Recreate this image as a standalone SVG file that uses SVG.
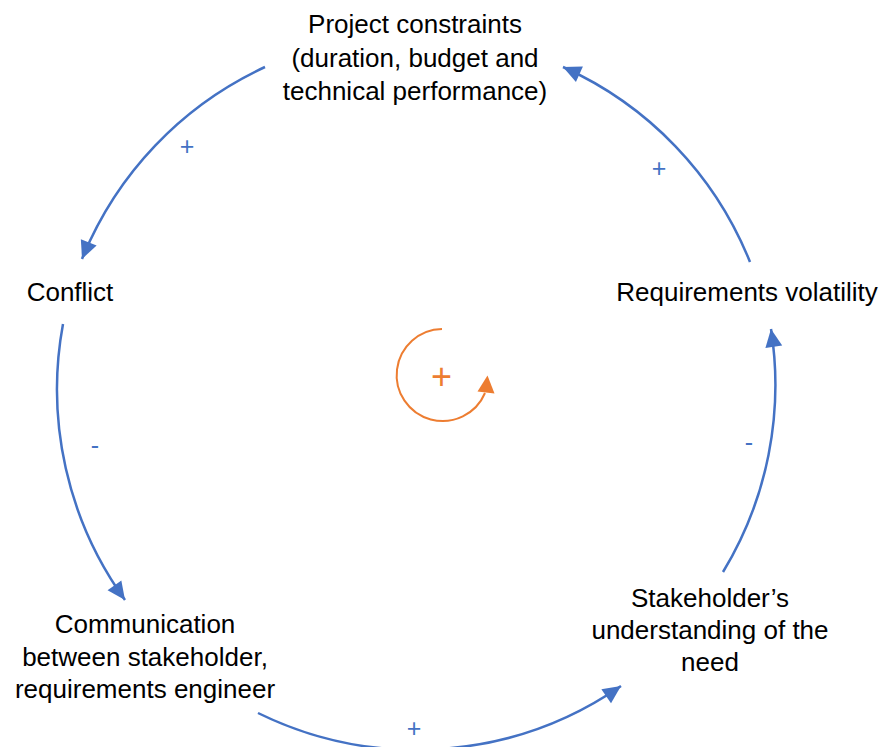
<svg xmlns="http://www.w3.org/2000/svg" width="885" height="747" viewBox="0 0 885 747">
<style>
.t{font-family:"Liberation Sans",Arial,sans-serif;font-size:26px;fill:#000;text-anchor:middle}
.s{font-family:"Liberation Sans",Arial,sans-serif;font-size:25px;fill:#4472C4;text-anchor:middle}
.c{fill:none;stroke:#4472C4;stroke-width:2.5}
.o{fill:none;stroke:#ED7D31;stroke-width:2}
</style>
<defs>
<marker id="ab" viewBox="-19 -10 20 20" markerWidth="20" markerHeight="20" refX="0" refY="0" orient="auto" markerUnits="userSpaceOnUse">
<path d="M0,0 L-18,-8.5 L-18,8.5 Z" fill="#4472C4"/>
</marker>
</defs>
<rect width="885" height="747" fill="#fff"/>
<g id="connectors">
<path class="c" d="M265,67 A360,360 0 0 0 82,259" marker-end="url(#ab)"/>
<path class="c" d="M63,324 A360,360 0 0 0 125,600" marker-end="url(#ab)"/>
<path class="c" d="M258,713 A360,360 0 0 0 621,686" marker-end="url(#ab)"/>
<path class="c" d="M723,572 A360,360 0 0 0 771,329" marker-end="url(#ab)"/>
<path class="c" d="M750,262 A360,360 0 0 0 563,67" marker-end="url(#ab)"/>
</g>
<g id="polarities">
<text class="s" x="187" y="155">+</text>
<text class="s" x="659" y="177">+</text>
<text class="s" x="414" y="737">+</text>
<text class="s" x="95" y="454">-</text>
<text class="s" x="749" y="451">-</text>
</g>
<g id="loop">
<path class="o" d="M442,329 A46,46 0 1 0 485,393"/>
<polygon points="487.5,375.5 477.5,391.5 494.5,393.5" fill="#ED7D31"/>
<text x="441.5" y="389" style="font-family:'Liberation Sans',Arial,sans-serif;font-size:36px;fill:#ED7D31;text-anchor:middle">+</text>
</g>
<g id="project-constraints">
<text class="t" x="415" y="33">Project constraints</text>
<text class="t" x="415" y="66.5">(duration, budget and</text>
<text class="t" x="415" y="100">technical performance)</text>
</g>
<g id="conflict">
<text class="t" x="70" y="301">Conflict</text>
</g>
<g id="requirements-volatility">
<text class="t" x="747" y="301">Requirements volatility</text>
</g>
<g id="communication">
<text class="t" x="145" y="633">Communication</text>
<text class="t" x="145" y="666">between stakeholder,</text>
<text class="t" x="145" y="698">requirements engineer</text>
</g>
<g id="stakeholder-understanding">
<text class="t" x="710" y="607">Stakeholder’s</text>
<text class="t" x="710" y="639">understanding of the</text>
<text class="t" x="710" y="671">need</text>
</g>
</svg>
